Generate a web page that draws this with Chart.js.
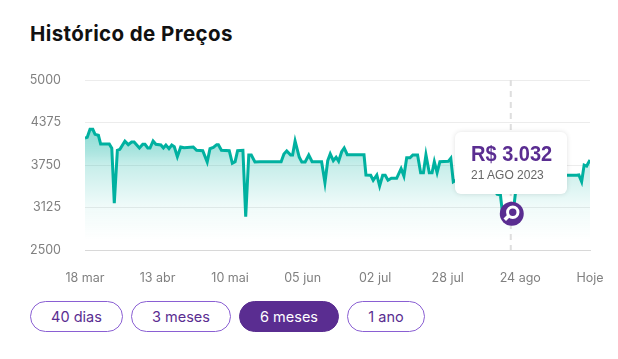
<!DOCTYPE html>
<html lang="pt-BR">
<head>
<meta charset="utf-8">
<title>Histórico de Preços</title>
<script src="https://cdn.jsdelivr.net/npm/chart.js@4/dist/chart.umd.min.js"></script>
<style>
  html, body { margin: 0; padding: 0; background: #fff; }
  body { width: 618px; height: 359px; position: relative; overflow: hidden; font-family: Inter, sans-serif; }
  h1 { position: absolute; left: 30px; top: 21px; margin: 0; font-size: 20.5px; line-height: 26px; font-weight: 700; color: #111; letter-spacing: 0.4px; white-space: nowrap; }
  #wrap { position: absolute; left: 0; top: 0; width: 618px; height: 300px; }
  #tip { position: absolute; width: 112px; height: 62px; box-sizing: border-box; padding: 10px 0 0 16px; background: #fff; border-radius: 6px; box-shadow: 0 0 5px rgba(0,0,0,0.12); font-family: "Liberation Sans", Arial, sans-serif; white-space: nowrap; }
  #tipPrice { font-size: 22px; line-height: 24px; font-weight: 700; color: #5a2d91; transform: scaleX(0.91); transform-origin: left center; }
  #tipDate { font-size: 12px; line-height: 16px; color: #666; margin-top: 1px; }
  .btn { position: absolute; top: 301px; height: 31px; box-sizing: border-box; border: 1px solid #8a5fd3; border-radius: 16px; background: #fff; color: #5a2d91; font-size: 14.5px; line-height: 29px; text-align: center; }
  .btn.on { background: #5a2d91; border-color: #5a2d91; color: #fff; }
</style>
</head>
<body>
<h1>Histórico de Preços</h1>
<div id="wrap"><canvas id="chart" width="618" height="300"></canvas></div>
<div id="tip"><div id="tipPrice"></div><div id="tipDate"></div></div>
<div class="btn" style="left:30px;width:93px">40 dias</div>
<div class="btn" style="left:131px;width:100px">3 meses</div>
<div class="btn on" style="left:239px;width:100px">6 meses</div>
<div class="btn" style="left:347px;width:78px">1 ano</div>
<script>
const days = [0, 0.8, 1.8, 2.8, 3.6, 4.8, 5.6, 8.7, 9.6, 10.5, 11.6, 12.5, 14.3, 15.5, 16.7, 17.6, 19.5, 20.7, 21.5, 22.5,
  23.3, 24.4, 25.4, 27.2, 28.1, 29, 30.1, 31.1, 32, 33.1, 34.3, 35.5, 38.8, 40, 42.2, 43.8, 44.8, 46, 47.2, 47.8,
  48.9, 51.7, 52.8, 53.8, 54.7, 56.6, 57.6, 58.7, 59.6, 60.9, 62.7, 70.3, 71.3, 72.3, 73.7, 74.4, 75.3, 76.8, 77.7, 78.9,
  80.2, 81.4, 84.8, 86, 87, 87.9, 89, 90, 90.9, 92, 92.9, 94, 100, 100.7, 102.4, 103.3, 104.6, 105.6, 106.7, 107.6,
  108.6, 109.8, 111.7, 113.3, 114.3, 115.3, 116.5, 117.5, 119.2, 120.3, 121.3, 122.2, 123.4, 124.4, 125.2, 126.2, 127.2, 130.2, 131.1, 132,
  134.4, 145.2, 147.7, 148.9, 149.5, 152.6, 153.6, 154.2, 154.9, 157.7, 170.3, 173.2, 176.2, 177, 178, 178.9, 179.8, 181];
const prices = [4147, 4157, 4275, 4275, 4201, 4187, 4059, 4059, 3996, 3187, 3966, 3981, 4099, 4049, 4088, 4088, 4000, 4054, 4054, 4000,
  4000, 4103, 4054, 4044, 4000, 4044, 3990, 4044, 4019, 3872, 4015, 4004, 4015, 3966, 3960, 3794, 3990, 4010, 4049, 4049,
  3966, 3960, 3775, 3799, 3960, 3966, 2990, 3897, 3897, 3794, 3799, 3799, 3912, 3956, 3897, 3897, 4103, 3863, 3794, 3794,
  3897, 3799, 3799, 3490, 3813, 3912, 3813, 3863, 3804, 3946, 4000, 3901, 3901, 3603, 3599, 3525, 3603, 3441, 3599, 3599,
  3525, 3554, 3554, 3696, 3588, 3857, 3857, 3897, 3897, 3637, 3637, 3901, 3637, 3637, 3799, 3637, 3799, 3804, 3849, 3504,
  3559, 3529, 3320, 3309, 3090, 3032, 3100, 3309, 3559, 3647, 3603, 3599, 3599, 3603, 3504, 3750, 3735, 3824];

const yTicks = [2500, 3125, 3750, 4375, 5000];
const xTickDays = [0, 26, 52, 78, 104, 130, 156, 181];
const xTickLabels = ['18 mar', '13 abr', '10 mai', '05 jun', '02 jul', '28 jul', '24 ago', 'Hoje'];

const selectedDay = 152.6;
const selectedPrice = 3032;
const selectedDate = '21 AGO 2023';

const tickFont = { family: 'Inter, sans-serif', size: 12.5 };
const tickColor = '#808080';

// dashed line, marker and tooltip position for the selected point
const selectedPoint = {
  id: 'selectedPoint',
  afterDatasetsDraw(chart) {
    const { ctx, scales, chartArea } = chart;
    const px = scales.x.getPixelForValue(selectedDay);
    const py = scales.y.getPixelForValue(selectedPrice);

    ctx.save();
    ctx.strokeStyle = '#dedede';
    ctx.lineWidth = 2;
    ctx.setLineDash([6, 5]);
    ctx.beginPath();
    ctx.moveTo(px, chartArea.top);
    ctx.lineTo(px, chartArea.bottom);
    ctx.stroke();
    ctx.setLineDash([]);

    ctx.fillStyle = '#5a2d91';
    ctx.beginPath();
    ctx.arc(px + 1, py, 12, 0, Math.PI * 2);
    ctx.fill();

    // magnifier icon
    ctx.strokeStyle = '#fff';
    ctx.lineWidth = 3;
    ctx.beginPath();
    ctx.arc(px + 2, py - 1.5, 5.2, 0, Math.PI * 2);
    ctx.stroke();
    ctx.lineWidth = 3.5;
    ctx.beginPath();
    ctx.moveTo(px - 2, py + 2);
    ctx.lineTo(px - 6, py + 6);
    ctx.stroke();
    ctx.restore();

    const tip = document.getElementById('tip');
    tip.style.left = (px - 55.7) + 'px';
    tip.style.top = (py - 82) + 'px';
  }
};

document.getElementById('tipPrice').textContent = 'R$ ' + selectedPrice.toLocaleString('pt-BR');
document.getElementById('tipDate').textContent = selectedDate;

new Chart(document.getElementById('chart').getContext('2d'), {
  type: 'line',
  data: {
    datasets: [{
      data: days.map((d, i) => ({ x: d, y: prices[i] })),
      borderColor: '#00b1a0',
      borderWidth: 3,
      pointRadius: 0,
      tension: 0,
      fill: 'start',
      backgroundColor(context) {
        const area = context.chart.chartArea;
        if (!area) return 'transparent';
        const g = context.chart.ctx.createLinearGradient(0, 130, 0, 240);
        g.addColorStop(0, 'rgba(0, 177, 160, 0.45)');
        g.addColorStop(0.18, 'rgba(0, 177, 160, 0.34)');
        g.addColorStop(0.32, 'rgba(0, 177, 160, 0.22)');
        g.addColorStop(0.7, 'rgba(0, 177, 160, 0.06)');
        g.addColorStop(1, 'rgba(0, 177, 160, 0)');
        return g;
      }
    }]
  },
  options: {
    responsive: false,
    animation: false,
    layout: { padding: { top: 80, right: 28 } },
    plugins: { legend: { display: false }, tooltip: { enabled: false } },
    scales: {
      x: {
        type: 'linear',
        min: 0,
        max: 181,
        afterBuildTicks(axis) { axis.ticks = xTickDays.map(v => ({ value: v })); },
        afterFit(axis) {
          axis.height = 50;
          // tick padding would otherwise be added to the right margin
          axis.paddingLeft = 0;
          axis.paddingRight = 0;
        },
        grid: { display: false, drawTicks: false },
        border: { color: '#d8d8d8', width: 1 },
        ticks: {
          autoSkip: false,
          maxRotation: 0,
          padding: 21,
          color: tickColor,
          font: tickFont,
          callback(value) { return xTickLabels[xTickDays.indexOf(value)]; }
        }
      },
      y: {
        min: 2500,
        max: 5000,
        afterBuildTicks(axis) { axis.ticks = yTicks.map(v => ({ value: v })); },
        afterFit(axis) { axis.width = 85; },
        grid: { color: '#ececec', drawTicks: false },
        border: { display: false },
        ticks: {
          padding: 24,
          color: tickColor,
          font: tickFont,
          callback(value) { return String(value); }
        }
      }
    }
  },
  plugins: [selectedPoint]
});
</script>
</body>
</html>
